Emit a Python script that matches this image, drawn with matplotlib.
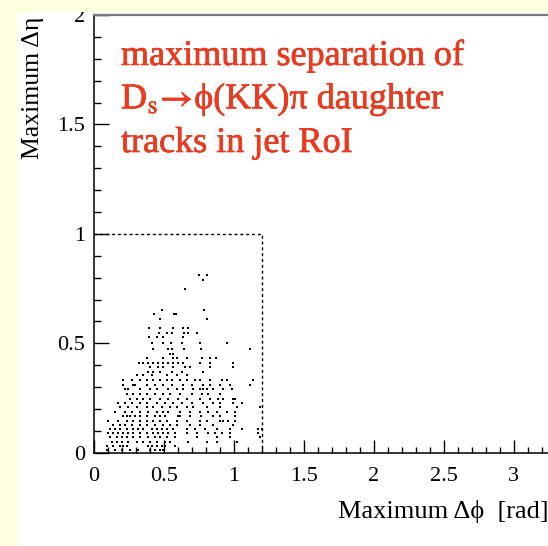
import numpy as np
import matplotlib
matplotlib.use("Agg")
import matplotlib.pyplot as plt
import matplotlib.patheffects as pe
from matplotlib.patches import Rectangle
from matplotlib.ticker import MultipleLocator

plt.rcParams["font.family"] = ["Liberation Serif", "STIXGeneral", "DejaVu Serif"]
plt.rcParams["mathtext.fontset"] = "stix"

# max d-eta of the daughter tracks, one entry per row of the scatter
ETA_ROWS = [0.81, 0.79, 0.749, 0.651, 0.65, 0.633, 0.61, 0.571, 0.549, 0.527,
            0.499, 0.472, 0.45, 0.431, 0.411, 0.39, 0.37, 0.355, 0.332, 0.309,
            0.289, 0.268, 0.247, 0.225, 0.207, 0.187, 0.167, 0.146, 0.126,
            0.107, 0.088, 0.07, 0.05, 0.03, 0.012]

# max d-phi of the events in each eta row
PHI_ROWS = [
    [0.752, 0.807],
    [0.781],
    [0.652],
    [0.49],
    [0.788],
    [0.429, 0.571, 0.586],
    [0.474, 0.812],
    [0.398, 0.474, 0.569, 0.636, 0.676],
    [0.464, 0.521, 0.562, 0.645, 0.671, 0.736],
    [0.398, 0.45, 0.498, 0.636],
    [0.414, 0.498, 0.55, 0.629, 0.76, 0.95],
    [0.426, 0.529, 0.557, 0.645, 0.769, 1.117],
    [0.545, 0.569],
    [0.379, 0.493, 0.569, 0.593, 0.664, 0.771, 0.831, 0.874],
    [0.326, 0.355, 0.39, 0.426, 0.462, 0.498, 0.533, 0.569, 0.605, 0.636,
     0.76, 0.831, 0.993],
    [0.402, 0.462, 0.498, 0.569, 0.652, 0.688, 0.831, 0.993],
    [0.39, 0.426, 0.474, 0.557, 0.629, 0.783],
    [0.307, 0.35, 0.414, 0.521, 0.593, 0.664],
    [0.212, 0.271, 0.331, 0.379, 0.426, 0.474, 0.521, 0.557, 0.617, 0.664,
     0.724, 0.76, 0.831, 0.914, 0.95, 1.14],
    [0.212, 0.283, 0.295, 0.379, 0.438, 0.498, 0.557, 0.64, 0.70, 0.779,
     0.831, 0.902, 0.974, 1.117],
    [0.224, 0.248, 0.331, 0.402, 0.45, 0.533, 0.593, 0.64, 0.712, 0.76,
     0.783, 0.807, 0.855, 0.926, 0.986],
    [0.236, 0.283, 0.331, 0.379, 0.438, 0.498, 0.545, 0.617, 0.70, 0.771,
     0.819, 0.902],
    [0.26, 0.307, 0.355, 0.402, 0.474, 0.533, 0.605, 0.664, 0.76, 0.831,
     0.89, 0.921, 0.998, 1.01],
    [0.176, 0.224, 0.271, 0.331, 0.379, 0.45, 0.51, 0.569, 0.629, 0.70,
     0.783, 0.855, 0.902, 0.998, 1.057],
    [0.188, 0.248, 0.307, 0.379, 0.426, 0.486, 0.545, 0.593, 0.664, 0.712,
     0.807, 0.902, 1.021, 1.188],
    [0.152, 0.224, 0.271, 0.331, 0.39, 0.45, 0.498, 0.533, 0.617, 0.688,
     0.76, 0.819, 0.879, 0.95, 1.01],
    [0.212, 0.236, 0.26, 0.295, 0.331, 0.379, 0.438, 0.474, 0.51, 0.605,
     0.617, 0.688, 0.769, 0.855, 0.902, 1.01],
    [0.105, 0.176, 0.236, 0.283, 0.331, 0.379, 0.426, 0.474, 0.521, 0.593,
     0.664, 0.76, 0.807, 0.902, 0.926, 0.962, 1.01],
    [0.14, 0.188, 0.224, 0.271, 0.331, 0.379, 0.438, 0.498, 0.545, 0.593,
     0.688, 0.76, 0.855, 0.998],
    [0.117, 0.152, 0.188, 0.236, 0.283, 0.319, 0.355, 0.414, 0.45, 0.486,
     0.521, 0.569, 0.664, 0.724, 0.795, 0.879, 0.974, 1.057, 1.176, 1.2],
    [0.105, 0.14, 0.176, 0.212, 0.248, 0.283, 0.331, 0.379, 0.426, 0.462,
     0.498, 0.533, 0.581, 0.664, 0.736, 0.819, 0.867, 0.914, 0.974, 1.176],
    [0.117, 0.164, 0.2, 0.236, 0.283, 0.331, 0.39, 0.438, 0.474, 0.521,
     0.581, 0.736, 0.879, 0.974, 1.188],
    [0.129, 0.164, 0.2, 0.248, 0.307, 0.355, 0.402, 0.45, 0.51, 0.545,
     0.676, 0.807, 0.879, 1.021],
    [0.093, 0.14, 0.188, 0.212, 0.236, 0.39, 0.414, 0.45, 0.486, 0.51, 0.581],
    [0.093, 0.152, 0.2, 0.26, 0.319, 0.402, 0.438, 0.474, 0.498],
]

# RoI window edges
ROI_DPHI = 1.2
ROI_DETA = 1.0

dphi = np.concatenate([np.array(r) for r in PHI_ROWS])
deta = np.concatenate([np.full(len(r), e) for r, e in zip(PHI_ROWS, ETA_ROWS)])

W, H = 548, 546
fig = plt.figure(figsize=(W / 100, H / 100), dpi=100, facecolor="white")

# frame runs past the right edge of the canvas
x0, y0, top = 93.7, 452.7, 15.0
xmax = 3.5
ax = fig.add_axes([x0 / W, (H - y0) / H, xmax * 140 / W, (y0 - top) / H])
ax.set_xlim(0, xmax)
ax.set_ylim(0, 2)

ax.plot(dphi, deta, "s", ms=2.0, mew=0, color="black", zorder=3)
ax.plot([0, ROI_DPHI, ROI_DPHI], [ROI_DETA, ROI_DETA, 0], color="black",
        lw=1.0, ls=(0, (2.2, 2.0)), zorder=2)

ax.xaxis.set_major_locator(MultipleLocator(0.5))
ax.xaxis.set_minor_locator(MultipleLocator(0.1))
ax.yaxis.set_major_locator(MultipleLocator(0.5))
ax.yaxis.set_minor_locator(MultipleLocator(0.1))
# labels past the canvas edge are left blank
ax.xaxis.set_major_formatter(lambda v, p: f"{v:g}" if v <= 3.01 else "")
ax.yaxis.set_major_formatter(lambda v, p: f"{v:g}")

ax.tick_params(axis="x", which="major", direction="in", length=9.4, width=1.0,
               pad=10, labelsize=16)
ax.tick_params(axis="x", which="minor", direction="in", length=4.4, width=1.0)
ax.tick_params(axis="y", which="major", direction="in", length=10.8, width=1.0,
               pad=6, labelsize=16)
ax.tick_params(axis="y", which="minor", direction="in", length=5.2, width=1.0)

for side in ("left", "bottom"):
    ax.spines[side].set_linewidth(1.1)
    ax.spines[side].set_color("black")
ax.spines["top"].set_linewidth(1.6)
ax.spines["top"].set_color("#777777")

fig.text(33 / W, (H - 17) / H, "Maximum Δη", rotation=90,
         ha="center", va="top", fontsize=18.5)
fig.text(338 / W, (H - 518) / H, "Maximum Δϕ  [rad]",
         ha="left", va="baseline", fontsize=19)

red = "#ec3a1e"
label_lines = [
    "maximum separation of",
    r"D$_{\rm s}\!\rightarrow\!$ϕ(KK)π daughter",
    "tracks in jet RoI",
]
for i, line in enumerate(label_lines):
    t = fig.text(121 / W, (H - 65 - 43.5 * i) / H, line, ha="left",
                 va="baseline", fontsize=26, color=red)
    t.set_path_effects([pe.withStroke(linewidth=0.45, foreground="#d42a12")])

# slide background around the canvas
yellow = "#ffffe0"
fig.patches.append(Rectangle((0, 1 - 12 / H), 1, 12 / H, transform=fig.transFigure,
                             facecolor=yellow, edgecolor="none", zorder=20))
fig.patches.append(Rectangle((0, 0), 17 / W, 1, transform=fig.transFigure,
                             facecolor=yellow, edgecolor="none", zorder=20))

fig.savefig("out.png", dpi=100, facecolor=fig.get_facecolor())
